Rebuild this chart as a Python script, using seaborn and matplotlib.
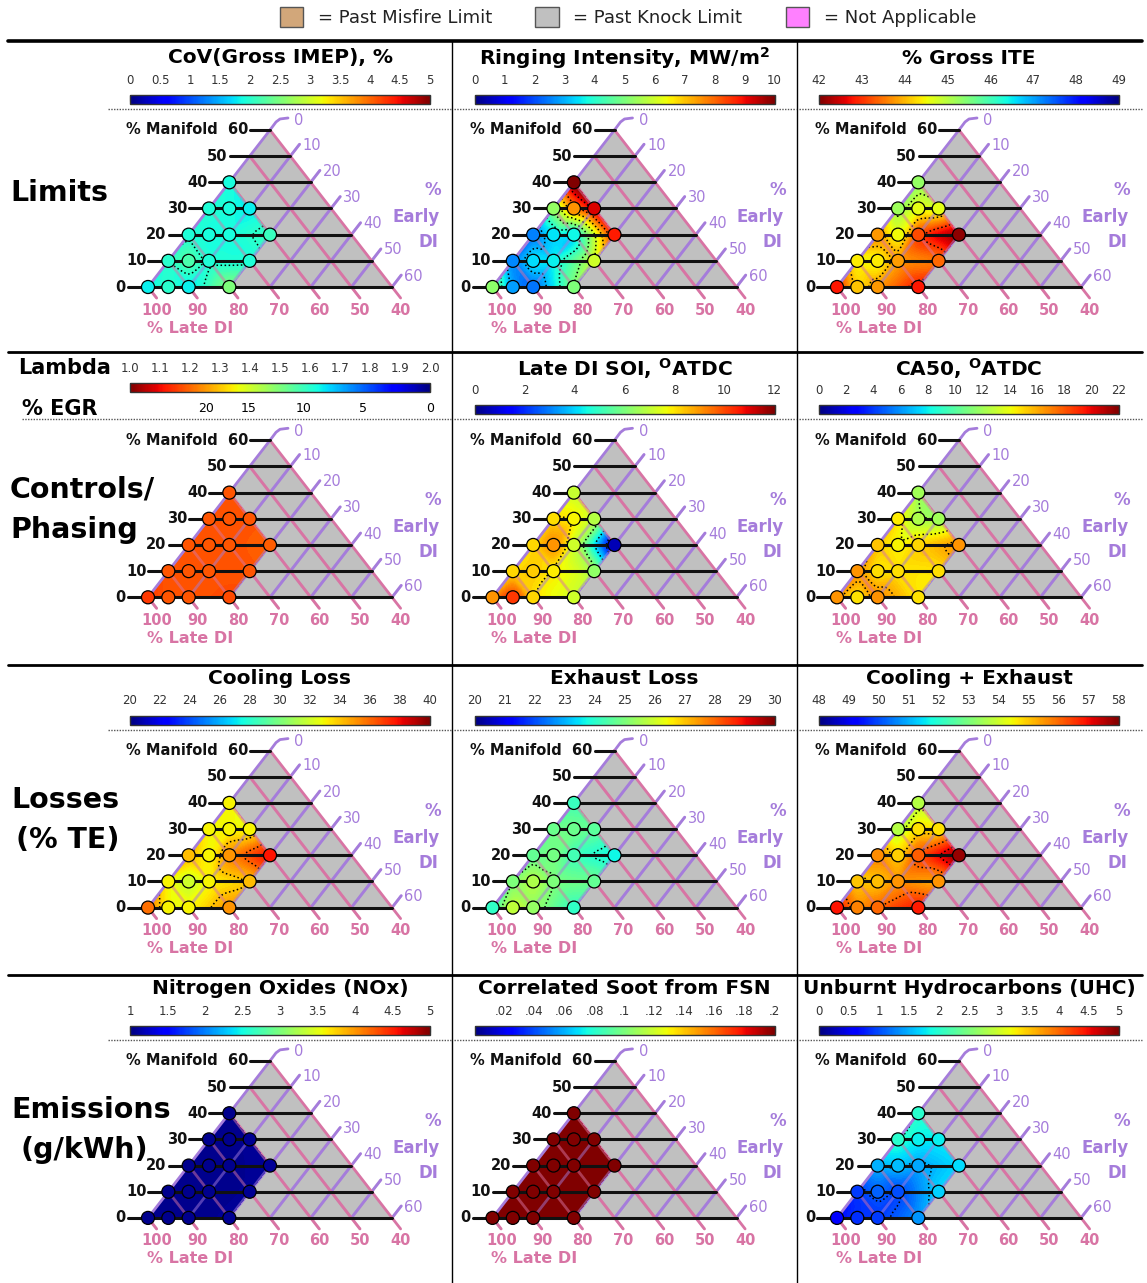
import numpy as np
import matplotlib
matplotlib.use("Agg")
import matplotlib.pyplot as plt
import matplotlib.tri as mtri
from matplotlib.patches import Patch, Polygon
from matplotlib.colors import Normalize
from matplotlib.cm import ScalarMappable
import seaborn as sns

sns.set_theme(style="white")
plt.rcParams["font.family"] = ["DejaVu Sans"]
plt.rcParams["text.color"] = "black"
plt.rcParams["mathtext.fontset"] = "custom"
plt.rcParams["mathtext.rm"] = "DejaVu Sans"
plt.rcParams["mathtext.bf"] = "DejaVu Sans:bold"

# ---- operating points: % of fuel via manifold and via early DI (rest is late DI)
manifold = [0, 0, 0, 0, 10, 10, 10, 10, 20, 20, 20, 20, 30, 30, 30, 40]
early_di = [0, 5, 10, 20, 0, 5, 10, 20, 0, 5, 10, 20, 0, 5, 10, 0]

# ---- measured quantities at each point
cov_imep = [1.8, 2.0, 1.8, 2.5, 2.0, 2.2, 1.95, 1.95, 1.95, 1.9, 1.9, 2.1, 1.95, 1.9, 1.8, 1.9]
ringing = [5.2, 2.8, 2.4, 5.0, 2.6, 3.4, 3.6, 6.0, 2.5, 3.5, 3.7, 8.8, 5.3, 7.5, 9.2, 10.0]
gross_ite = [42.8, 44.1, 43.75, 42.8, 44.4, 44.4, 43.8, 43.4, 43.75, 44.5, 43.2, 42.1,
             45.2, 44.6, 44.6, 45.3]
lambda_val = [1.15, 1.18, 1.18, 1.17, 1.18, 1.18, 1.18, 1.18, 1.18, 1.18, 1.18, 1.19,
              1.18, 1.18, 1.18, 1.18]
late_soi = [9.0, 10.2, 8.2, 7.2, 8.2, 8.3, 7.9, 6.3, 8.2, 9.0, 7.2, 0.6, 8.1, 7.8, 6.8, 7.1]
ca50 = [16.5, 14.7, 16.6, 14.7, 16.5, 14.8, 14.8, 14.8, 15.4, 14.3, 15.0, 16.5,
        14.5, 12.3, 12.0, 12.0]
cooling_loss = [35.8, 33.0, 33.0, 35.0, 33.0, 32.0, 33.0, 34.2, 34.2, 33.0, 35.0, 37.8,
                33.0, 33.0, 33.0, 33.0]
exhaust_loss = [24.1, 25.8, 25.3, 24.1, 25.0, 25.6, 25.0, 24.7, 24.7, 24.9, 24.3, 23.7,
                24.8, 24.8, 24.6, 24.2]
cool_exh = [56.9, 55.7, 56.0, 56.8, 55.0, 55.1, 55.5, 55.5, 55.6, 54.9, 56.1, 57.8,
            53.7, 54.7, 54.7, 53.7]
nox = [1.05, 1.06, 1.06, 1.07, 1.05, 1.06, 1.06, 1.07, 1.05, 1.06, 1.06, 1.08,
       1.05, 1.06, 1.07, 1.05]
soot = [0.21, 0.22, 0.22, 0.23, 0.21, 0.22, 0.22, 0.23, 0.21, 0.22, 0.22, 0.23,
        0.21, 0.22, 0.22, 0.21]
uhc = [0.6, 0.85, 0.9, 1.35, 0.9, 1.1, 1.0, 1.65, 1.5, 1.55, 1.45, 1.7, 2.0, 1.8, 1.8, 2.0]

# ---- colour scales
cov_ticks = [0, 0.5, 1, 1.5, 2, 2.5, 3, 3.5, 4, 4.5, 5]
cov_labels = ["0", "0.5", "1", "1.5", "2", "2.5", "3", "3.5", "4", "4.5", "5"]
ring_ticks = list(range(0, 11))
ite_ticks = list(range(42, 50))
lambda_ticks = [1.0, 1.1, 1.2, 1.3, 1.4, 1.5, 1.6, 1.7, 1.8, 1.9, 2.0]
lambda_labels = ["1.0", "1.1", "1.2", "1.3", "1.4", "1.5", "1.6", "1.7", "1.8", "1.9", "2.0"]
egr_labels = ["20", "15", "10", "5", "0"]
egr_on_lambda = [1.255, 1.395, 1.578, 1.777, 2.0]
soi_ticks = list(range(0, 13, 2))
ca50_ticks = list(range(0, 23, 2))
cool_ticks = list(range(20, 41, 2))
exh_ticks = list(range(20, 31))
ce_ticks = list(range(48, 59))
nox_ticks = [1, 1.5, 2, 2.5, 3, 3.5, 4, 4.5, 5]
nox_labels = ["1", "1.5", "2", "2.5", "3", "3.5", "4", "4.5", "5"]
soot_ticks = [0.02, 0.04, 0.06, 0.08, 0.10, 0.12, 0.14, 0.16, 0.18, 0.20]
soot_labels = [".02", ".04", ".06", ".08", ".1", ".12", ".14", ".16", ".18", ".2"]
uhc_ticks = cov_ticks
uhc_labels = cov_labels

JET = matplotlib.colormaps["jet"]
JET_R = matplotlib.colormaps["jet_r"]

panels = [
    ("CoV(Gross IMEP), %", cov_imep, JET, 0, 5, cov_ticks, cov_labels),
    ("Ringing Intensity, MW/m$^\\mathbf{2}$", ringing, JET, 0, 10, ring_ticks, None),
    ("% Gross ITE", gross_ite, JET_R, 42, 49, ite_ticks, None),
    (None, lambda_val, JET_R, 1.0, 2.0, lambda_ticks, lambda_labels),
    ("Late DI SOI, $^\\mathbf{O}$ATDC", late_soi, JET, 0, 12, soi_ticks, None),
    ("CA50, $^\\mathbf{O}$ATDC", ca50, JET, 0, 22, ca50_ticks, None),
    ("Cooling Loss", cooling_loss, JET, 20, 40, cool_ticks, None),
    ("Exhaust Loss", exhaust_loss, JET, 20, 30, exh_ticks, None),
    ("Cooling + Exhaust", cool_exh, JET, 48, 58, ce_ticks, None),
    ("Nitrogen Oxides (NOx)", nox, JET, 1, 5, nox_ticks, nox_labels),
    ("Correlated Soot from FSN", soot, JET, 0.0, 0.2, soot_ticks, soot_labels),
    ("Unburnt Hydrocarbons (UHC)", uhc, JET, 0, 5, uhc_ticks, uhc_labels),
]

row_labels = [
    [("Limits", 10, 193, "left")],
    [("Controls/", 10, 490, "left"), ("Phasing", 10, 530, "left")],
    [("Losses", 65, 800, "center"), ("(% TE)", 68, 840, "center")],
    [("Emissions", 91, 1110, "center"), ("(g/kWh)", 84, 1150, "center")],
]

PURPLE = "#A57CDB"
PINK = "#D874A4"
GRAY = "#C0C0C0"

W, H = 1147, 1283
fig = plt.figure(figsize=(W / 100, H / 100), dpi=100)
bg = fig.add_axes([0, 0, 1, 1])
bg.set_xlim(0, W)
bg.set_ylim(H, 0)
bg.axis("off")

# frame lines between the rows and columns
bg.plot([8, 1142], [41, 41], color="black", lw=2.6)
for yy in (352, 665, 975):
    bg.plot([8, 1142], [yy, yy], color="black", lw=2.0)
for xx in (452, 797):
    bg.plot([xx, xx], [41, H], color="black", lw=1.0)
for r in range(4):
    ysep = 109 + 310.3 * r
    x0 = 22 if r == 1 else 108
    for a, b in ((x0, 451), (454, 796), (799, 1142)):
        bg.plot([a, b], [ysep, ysep], color="#555555", lw=1.0, ls=(0, (1, 1)))

for lines in row_labels:
    for txt, x, y, ha in lines:
        bg.text(x, y, txt, ha=ha, va="center", fontsize=20.5, fontweight="bold",
                color="black")

# legend of the special-region fills
handles = [Patch(facecolor="#D2A77A", edgecolor="#555555"),
           Patch(facecolor=GRAY, edgecolor="#555555"),
           Patch(facecolor="#FF80FF", edgecolor="#555555")]
fig.legend(handles, ["= Past Misfire Limit", "= Past Knock Limit", "= Not Applicable"],
           loc="center", bbox_to_anchor=(628 / W, 1 - 17 / H), ncol=3, frameon=False,
           fontsize=13, handlelength=1.3, handleheight=1.4, handletextpad=0.8,
           columnspacing=2.4, labelcolor="#222222")

SX, SY = 4.067, 2.617  # pixels per ternary unit


def tern_xy(m, e):
    m = np.asarray(m, dtype=float)
    e = np.asarray(e, dtype=float)
    return e + m / 2.0, m


def fig_rect(left, top, width, height):
    return [left / W, 1 - (top + height) / H, width / W, height / H]


tx, ty = tern_xy(manifold, early_di)
tri = mtri.Triangulation(tx, ty)
refiner = mtri.UniformTriRefiner(tri)

for idx, (title, vals, cmap, vmin, vmax, ticks, tlabels) in enumerate(panels):
    r, c = divmod(idx, 3)
    ox = 148 + 344.5 * c
    oy = 287 + 310.3 * r
    cx = 280 + 344.5 * c

    # title and colour bar
    if title is not None:
        bg.text(cx, 58 + 310.3 * r, title, ha="center", va="center",
                fontsize=14.5, fontweight="bold", color="black")
        cax = fig.add_axes(fig_rect(130 + 344.5 * c, 95 + 310.3 * r, 300, 9))
    else:
        cax = fig.add_axes(fig_rect(130, 383 + 310.3 * (r - 1), 300, 9))
        bg.text(18, 368, "Lambda", ha="left", va="center", fontsize=15,
                fontweight="bold", color="black")
        bg.text(22, 409, "% EGR", ha="left", va="center", fontsize=15,
                fontweight="bold", color="black")
    sm = ScalarMappable(norm=Normalize(vmin, vmax), cmap=cmap)
    cb = fig.colorbar(sm, cax=cax, orientation="horizontal", ticks=ticks)
    if tlabels is not None:
        cb.set_ticklabels(tlabels)
    cb.outline.set_linewidth(1.0)
    cb.outline.set_edgecolor("#333333")
    cax.tick_params(axis="x", top=True, bottom=False, labeltop=True, labelbottom=False,
                    direction="in", length=4, width=0.8, labelsize=8.5, color="#333333",
                    labelcolor="#333333", pad=6)
    if title is None:
        sec = cax.secondary_xaxis("bottom")
        sec.set_xticks(egr_on_lambda, labels=egr_labels)
        sec.tick_params(direction="in", length=4, width=0.8, labelsize=9, pad=7,
                        color="#333333", labelcolor="black")
        sec.spines["bottom"].set_visible(False)

    # ternary diagram
    L, R, T, B = ox - 46, ox + 300, oy - 175, oy + 60
    ax = fig.add_axes(fig_rect(L, T, R - L, B - T))
    ax.patch.set_alpha(0)

    corners = np.column_stack(tern_xy([0, 60, 0], [0, 0, 60]))
    ax.add_patch(Polygon(corners, closed=True, facecolor=GRAY, edgecolor="none", zorder=1))

    z = np.asarray(vals, dtype=float)
    interp = mtri.CubicTriInterpolator(tri, z, kind="geom")
    tri_f, z_f = refiner.refine_field(z, triinterpolator=interp, subdiv=4)
    ax.tricontourf(tri_f, z_f, levels=np.linspace(vmin, vmax, 121), cmap=cmap,
                   extend="both", zorder=3)
    if z_f.max() - z_f.min() > 1e-3 * (vmax - vmin):
        ax.tricontour(tri_f, z_f, levels=ticks, colors="black", linewidths=1.1,
                      linestyles=":", zorder=4)

    # Early DI lines (purple): solid under the colour field, faint over it
    for e in range(0, 70, 10):
        x0, y0 = tern_xy(0, e)
        x1, y1 = tern_xy(60 - e, e)
        if e == 0:
            hx = x1 + np.array([0, 6, 10, 18]) / SX
            hy = y1 + np.array([0, 8, 11, 12]) / SY
            ax.plot([x0, x1], [y0, y1], color=PURPLE, lw=2.0, zorder=5)
            ax.plot(hx, hy, color=PURPLE, lw=2.0, zorder=5, solid_capstyle="round")
            ax.text(x1 + 24 / SX, y1 + 9 / SY, "0", color=PURPLE, fontsize=10.5,
                    ha="left", va="center")
        else:
            xe, ye = x1 + 9.2 / SX, y1 + 11.9 / SY
            ax.plot([x0, xe], [y0, ye], color=PURPLE, lw=2.0, zorder=2)
            ax.plot([x0, xe], [y0, ye], color=PURPLE, lw=2.0, zorder=5, alpha=0.5)
            ax.text(xe + 3 / SX, ye - 1 / SY, str(e), color=PURPLE, fontsize=10.5,
                    ha="left", va="center")

    # Late DI lines (pink) with labels under the base
    for late in range(100, 30, -10):
        s = 100 - late
        x0, y0 = tern_xy(s, 0)
        x1, y1 = tern_xy(0, s)
        xe, ye = x1 + 8.6 / SX, y1 - 11.0 / SY
        if late == 40:
            ax.plot([x0, xe], [y0, ye], color=PINK, lw=2.0, zorder=5)
        else:
            ax.plot([x0, xe], [y0, ye], color=PINK, lw=2.0, zorder=2)
            ax.plot([x0, xe], [y0, ye], color=PINK, lw=2.0, zorder=5, alpha=0.5)
        ax.text(x1 + 9 / SX, y1 - 23 / SY, str(late), color=PINK, fontsize=10.5,
                ha="center", va="center", fontweight="bold")

    # Manifold lines (black) with ticks and labels to the left
    for m in range(0, 70, 10):
        x0, y0 = tern_xy(m, 0)
        x1, y1 = tern_xy(m, 60 - m)
        ax.plot([x0 - 20 / SX, x1], [y0, y1], color="#111111", lw=2.2, zorder=6)
        lab = "% Manifold  60" if m == 60 else str(m)
        ax.text(x0 - 22 / SX, y0, lab, ha="right", va="center", fontsize=10.5,
                fontweight="bold", color="#111111")

    ax.text(42 / SX, -41 / SY, "% Late DI", color=PINK, fontsize=11.5,
            fontweight="bold", ha="center", va="center")
    ax.text(285 / SX, 97 / SY, "%", color=PURPLE, fontsize=12, fontweight="bold",
            ha="center", va="center")
    ax.text(268 / SX, 70 / SY, "Early", color=PURPLE, fontsize=12, fontweight="bold",
            ha="center", va="center")
    ax.text(280 / SX, 45 / SY, "DI", color=PURPLE, fontsize=12, fontweight="bold",
            ha="center", va="center")

    sns.scatterplot(x=tx, y=ty, hue=z, palette=cmap, hue_norm=(vmin, vmax), s=88,
                    edgecolor="black", linewidth=0.9, legend=False, ax=ax, zorder=7,
                    clip_on=False)
    ax.set_xlim((L - ox) / SX, (R - ox) / SX)
    ax.set_ylim((oy - B) / SY, (oy - T) / SY)
    ax.axis("off")

fig.savefig("out.png", dpi=100)
